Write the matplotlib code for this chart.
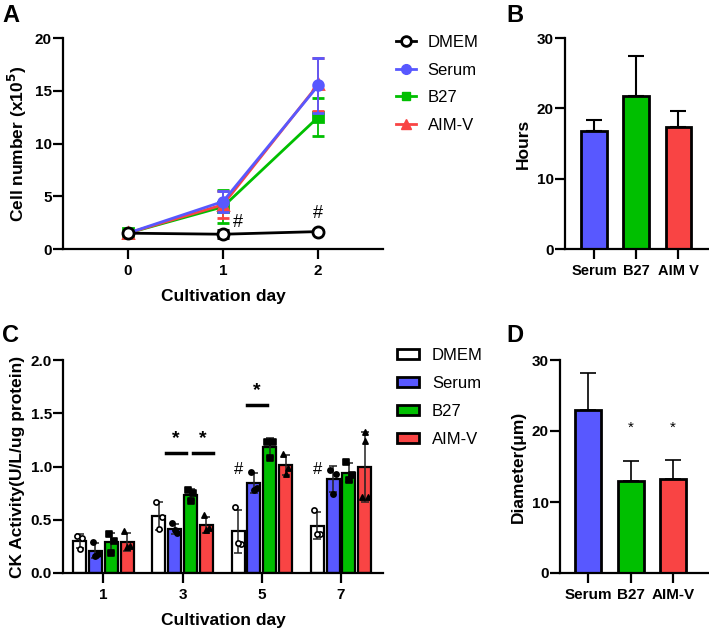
import numpy as np
import matplotlib.pyplot as plt
from matplotlib.patches import Patch
from matplotlib.lines import Line2D

plt.rcParams['font.family'] = ['Liberation Sans', 'DejaVu Sans']
plt.rcParams['font.weight'] = 'bold'
plt.rcParams['axes.linewidth'] = 1.6

# colours
c_dmem = 'white'
c_serum = '#5858FF'
c_b27 = '#00BF00'
c_aimv = '#F94444'

# --- A: growth curve ---
days_a = [0, 1, 2]
dmem_a = [1.5, 1.4, 1.65]
dmem_a_err = [0.1, 0.4, 0.15]
serum_a = [1.5, 4.5, 15.5]
serum_a_err = [0.1, 1.0, 2.6]
b27_a = [1.5, 4.0, 12.5]
b27_a_err = [0.1, 1.55, 1.8]
aimv_a = [1.5, 4.2, 15.6]
aimv_a_err = [0.1, 1.3, 2.5]

# --- B: doubling time ---
groups_b = ['Serum', 'B27', 'AIM V']
hours_b = [16.8, 21.7, 17.3]
hours_b_err = [1.5, 5.8, 2.3]

# --- C: CK activity, individual points ---
days_c = ['1', '3', '5', '7']
ck_dmem = [[0.35, 0.33, 0.23], [0.67, 0.53, 0.41], [0.62, 0.27, 0.28], [0.59, 0.37, 0.37]]
ck_serum = [[0.29, 0.18, 0.16], [0.47, 0.38, 0.40], [0.95, 0.80, 0.78], [0.97, 0.93, 0.74]]
ck_b27 = [[0.37, 0.30, 0.19], [0.78, 0.75, 0.68], [1.23, 1.23, 1.08], [1.04, 0.92, 0.87]]
ck_aimv = [[0.39, 0.25, 0.24], [0.54, 0.42, 0.40], [1.12, 0.99, 0.93], [1.32, 1.24, 0.71, 0.71]]

# --- D: diameter ---
groups_d = ['Serum', 'B27', 'AIM-V']
diam_d = [23.0, 12.9, 13.2]
diam_d_err = [5.1, 2.9, 2.7]

fig = plt.figure(figsize=(7.09, 6.29), dpi=100)
W, H = 709, 629

def px_axes(l, t, r, b):
    return fig.add_axes([l / W, 1 - b / H, (r - l) / W, (b - t) / H])

def style(ax, xsize=11, ysize=11):
    for s in ['top', 'right']:
        ax.spines[s].set_visible(False)
    ax.tick_params(width=1.6, length=7)
    ax.tick_params(axis='x', labelsize=xsize, pad=4)
    ax.tick_params(axis='y', labelsize=ysize, pad=1)
    for lab in ax.get_xticklabels() + ax.get_yticklabels():
        lab.set_fontweight('bold')

# ---------- A ----------
axA = px_axes(63, 38, 383, 249)
series = [(dmem_a, dmem_a_err, 'black', 'o', 'white', 'DMEM', 5),
          (b27_a, b27_a_err, c_b27, 's', c_b27, 'B27', 1),
          (aimv_a, aimv_a_err, c_aimv, '^', c_aimv, 'AIM-V', 2),
          (serum_a, serum_a_err, c_serum, 'o', c_serum, 'Serum', 3)]
for vals, err, col, mk, fc, lab, z in series:
    axA.errorbar(days_a, vals, yerr=err, color=col, marker=mk, mfc=fc, mec=col,
                 ms=8 if mk == 'o' and fc == 'white' else 7, mew=2, lw=2,
                 elinewidth=1.3, capsize=4, capthick=1.3, zorder=z)
axA.set_xlim(-0.68, 2.68)
axA.set_ylim(0, 20)
axA.set_xticks(days_a)
axA.set_yticks([0, 5, 10, 15, 20])
axA.set_xlabel('Cultivation day', fontsize=12.5, fontweight='bold', labelpad=8)
axA.set_ylabel('Cell number (x10$^\\mathbf{5}$)', fontsize=12.5, fontweight='bold')
style(axA)
axA.text(1.16, 2.5, '#', fontsize=13, fontweight='normal', ha='center', va='center')
axA.text(2.0, 3.4, '#', fontsize=13, fontweight='normal', ha='center', va='center')

handlesA = [Line2D([], [], color='black', marker='o', mfc='white', mew=2, lw=2, ms=7),
            Line2D([], [], color=c_serum, marker='o', lw=2, ms=7),
            Line2D([], [], color=c_b27, marker='s', lw=2, ms=6),
            Line2D([], [], color=c_aimv, marker='^', lw=2, ms=7)]
fig.legend(handlesA, ['DMEM', 'Serum', 'B27', 'AIM-V'], loc='upper left',
           bbox_to_anchor=(381 / W, 1 - 20 / H), frameon=False,
           prop={'size': 12, 'weight': 'normal'}, handlelength=1.2,
           labelspacing=0.75, handletextpad=0.7)

# ---------- B ----------
axB = px_axes(565, 38, 708, 249)
xb = np.arange(len(groups_b))
axB.bar(xb, hours_b, width=0.6, color=[c_serum, c_b27, c_aimv], edgecolor='black', lw=2, zorder=2)
axB.errorbar(xb, hours_b, yerr=[np.zeros(3), hours_b_err], fmt='none', ecolor='black',
             elinewidth=1.5, capsize=6, capthick=1.5, zorder=1)
axB.set_xlim(-0.69, 2.71)
axB.set_ylim(0, 30)
axB.set_yticks([0, 10, 20, 30])
axB.set_xticks(xb)
axB.set_xticklabels(groups_b)
axB.set_ylabel('Hours', fontsize=12.5, fontweight='bold')
style(axB, xsize=10.5)

# ---------- C ----------
axC = px_axes(63, 360, 383, 573)
xc = np.arange(len(days_c))
offsets = [-0.3, -0.1, 0.1, 0.3]
ck_sets = [ck_dmem, ck_serum, ck_b27, ck_aimv]
fills = [c_dmem, c_serum, c_b27, c_aimv]
markers = ['o', 'o', 's', '^']
jit = [-0.035, 0.035, 0.0]
for k, (data, fc, mk) in enumerate(zip(ck_sets, fills, markers)):
    means = [np.mean(d) for d in data]
    sds = [np.std(d, ddof=1) for d in data]
    axC.bar(xc + offsets[k], means, width=0.165, color=fc, edgecolor='black', lw=1.6, zorder=2)
    axC.errorbar(xc + offsets[k], means, yerr=sds, fmt='none', ecolor='#222222',
                 elinewidth=1.1, capsize=3, capthick=1.1, zorder=3)
    for i, d in enumerate(data):
        j = jit if len(d) == 3 else [0, 0, -0.035, 0.035]
        xs = xc[i] + offsets[k] + np.array(j)
        axC.scatter(xs, d, marker=mk, s=14, c='white' if k == 0 else 'black',
                    edgecolors='black', linewidths=1.2, zorder=4)
axC.set_xlim(-0.51, 3.53)
axC.set_ylim(0, 2.0)
axC.set_yticks([0, 0.5, 1.0, 1.5, 2.0])
axC.set_yticklabels(['0.0', '0.5', '1.0', '1.5', '2.0'])
axC.set_xticks(xc)
axC.set_xticklabels(days_c)
axC.set_xlabel('Cultivation day', fontsize=12.5, fontweight='bold', labelpad=8)
axC.set_ylabel('CK Activity(U/L/ug protein)', fontsize=12.5, fontweight='bold')
style(axC)
# significance marks
for x0, x1, y in [(1 - 0.215, 1 + 0.04, 1.13), (1 + 0.125, 1 + 0.39, 1.13), (2 - 0.19, 2 + 0.07, 1.58)]:
    axC.plot([x0, x1], [y, y], color='black', lw=2.5)
    axC.text((x0 + x1) / 2, y + 0.05, '*', fontsize=14, ha='center', va='bottom')
axC.text(2 - 0.3, 0.97, '#', fontsize=12, fontweight='normal', ha='center', va='center')
axC.text(3 - 0.3, 0.97, '#', fontsize=12, fontweight='normal', ha='center', va='center')

handlesC = [Patch(facecolor=f, edgecolor='black', lw=2) for f in fills]
fig.legend(handlesC, ['DMEM', 'Serum', 'B27', 'AIM-V'], loc='upper left',
           bbox_to_anchor=(382 / W, 1 - 333 / H), frameon=False,
           prop={'size': 12, 'weight': 'normal'}, handlelength=1.3, handleheight=0.6,
           labelspacing=0.78, handletextpad=0.8)

# ---------- D ----------
axD = px_axes(560, 360, 708, 573)
xd = np.arange(len(groups_d))
axD.bar(xd, diam_d, width=0.62, color=[c_serum, c_b27, c_aimv], edgecolor='black', lw=2, zorder=2)
axD.errorbar(xd, diam_d, yerr=[np.zeros(3), diam_d_err], fmt='none', ecolor='black',
             elinewidth=1.2, capsize=6, capthick=1.2, zorder=1)
axD.set_xlim(-0.67, 2.83)
axD.set_ylim(0, 30)
axD.set_yticks([0, 10, 20, 30])
axD.set_xticks(xd)
axD.set_xticklabels(groups_d)
axD.set_ylabel('Diameter(μm)', fontsize=12.5, fontweight='bold')
style(axD, xsize=11)
for i in [1, 2]:
    axD.text(xd[i], 20.4, '*', fontsize=11, fontweight='normal', ha='center', va='center')

# panel letters
for lab, x, y in [('A', 2, 4), ('B', 506, 4), ('C', 2, 324), ('D', 506, 324)]:
    fig.text(x / W, 1 - y / H, lab, fontsize=17, fontweight='bold', ha='left', va='top')

fig.savefig('out.png', dpi=100)
